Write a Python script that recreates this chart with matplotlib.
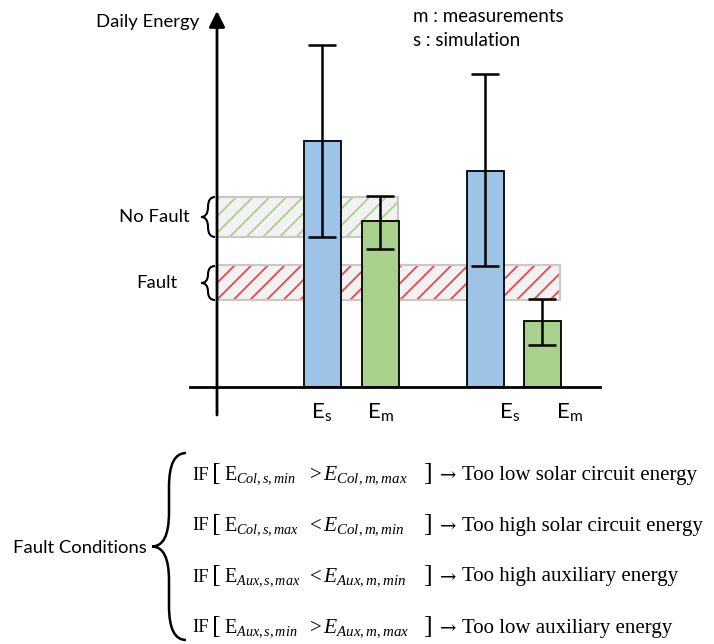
import numpy as np
import matplotlib
matplotlib.use('Agg')
import matplotlib.pyplot as plt
from matplotlib.patches import Rectangle, PathPatch
from matplotlib.path import Path

plt.rcParams['font.family'] = ['Lato', 'DejaVu Sans']
plt.rcParams['mathtext.fontset'] = 'custom'
plt.rcParams['mathtext.rm'] = 'Liberation Serif'
plt.rcParams['mathtext.it'] = 'Liberation Serif:italic'
plt.rcParams['mathtext.sf'] = 'Lato'
plt.rcParams['hatch.linewidth'] = 1.3

# daily energy (arbitrary units) for each bar
labels = [r'$\mathsf{E}_\mathsf{s}$', r'$\mathsf{E}_\mathsf{m}$', r'$\mathsf{E}_\mathsf{s}$', r'$\mathsf{E}_\mathsf{m}$']
energy = [24.6, 16.6, 21.6, 6.6]
err_low = [15.0, 13.8, 12.1, 4.2]
err_high = [34.2, 19.1, 31.3, 8.8]
bar_colors = ['#9dc3e6', '#a9d18e', '#9dc3e6', '#a9d18e']

# bands (low, high) of energy
no_fault = (15.0, 19.0)
fault = (8.7, 12.2)

# fault conditions: left term, operator, right term, consequence
cond_left = [r'$\mathrm{E}_{Col,s,min}$', r'$\mathrm{E}_{Col,s,max}$',
             r'$\mathrm{E}_{Aux,s,max}$', r'$\mathrm{E}_{Aux,s,min}$']
cond_op = ['>', '<', '<', '>']
cond_right = [r'$E_{Col,m,max}$', r'$E_{Col,m,min}$',
              r'$E_{Aux,m,min}$', r'$E_{Aux,m,max}$']
cond_result = ['Too low solar circuit energy', 'Too high solar circuit energy',
               'Too high auxiliary energy', 'Too low auxiliary energy']

xpos = [10.5, 16.3, 26.8, 32.5]
label_x = [10.5, 16.3, 29.3, 35.2]


def brace(ax, x_tip, x_end, y0, y1, lw=1.5):
    # curly brace opening to the right, tip pointing left
    ym = (y0 + y1) / 2.0
    xm = (x_tip + x_end) / 2.0
    r = min(abs(x_end - x_tip), abs(y1 - y0) / 4.0)
    s = np.sign(y1 - y0)
    verts = [(x_end, y0), (xm, y0), (xm, y0 + s * r),
             (xm, ym - s * r), (xm, ym), (x_tip, ym),
             (xm, ym), (xm, ym + s * r),
             (xm, y1 - s * r), (xm, y1), (x_end, y1)]
    codes = [Path.MOVETO, Path.CURVE3, Path.CURVE3,
             Path.LINETO, Path.CURVE3, Path.CURVE3,
             Path.CURVE3, Path.CURVE3,
             Path.LINETO, Path.CURVE3, Path.CURVE3]
    ax.add_patch(PathPatch(Path(verts, codes), fc='none', ec='black', lw=lw, clip_on=False))


fig = plt.figure(figsize=(7.14, 6.44), dpi=100)

# overlay in pixel coords
ax0 = fig.add_axes([0, 0, 1, 1])
ax0.set_xlim(0, 714)
ax0.set_ylim(644, 0)
ax0.axis('off')

# chart axes
ax = fig.add_axes([217/714, (644-387)/644, (714-217)/714, (387-12)/644])
ax.set_xlim(0, 49.7)
ax.set_ylim(0, 37.5)
ax.axis('off')
ax.patch.set_alpha(0)

for (lo, hi), hc, xr in [(no_fault, '#a9d18e', 18.1), (fault, '#e8474a', 34.3)]:
    ax.add_patch(Rectangle((0, lo), xr, hi - lo, fc='#f2f2f2', ec='none', zorder=1))
    ax.add_patch(Rectangle((0, lo), xr, hi - lo, fc='none', ec=hc, lw=0, hatch='//', zorder=1.1))
    ax.add_patch(Rectangle((0, lo), xr, hi - lo, fc='none', ec='#c8c8c8', lw=1.5, zorder=1.2))

ax.bar(xpos, energy, width=3.7, color=bar_colors, edgecolor='black', linewidth=1.3, zorder=2)
ax.errorbar(xpos, energy,
            yerr=[np.array(energy) - np.array(err_low), np.array(err_high) - np.array(energy)],
            fmt='none', ecolor='black', elinewidth=1.8, capsize=10, capthick=1.8, zorder=3)

# axes lines
ax.plot([-2.7, 38.3], [0, 0], color='black', lw=2, clip_on=False, zorder=4)
ax.annotate('', xy=(0, 37.6), xytext=(0, -2.8), annotation_clip=False,
            arrowprops=dict(arrowstyle='-|>', lw=2, color='black', mutation_scale=24,
                            shrinkA=0, shrinkB=0), zorder=4)

for x, lab in zip(label_x, labels):
    ax.text(x, -2.5, lab, ha='center', va='center', fontsize=16, clip_on=False)

ax0.text(148, 22, 'Daily Energy', ha='center', va='center', fontsize=13.3)
ax0.text(413, 16, 'm : measurements', ha='left', va='center', fontsize=13.5)
ax0.text(413, 40, 's : simulation', ha='left', va='center', fontsize=13.5)

ax0.text(190, 217, 'No Fault', ha='right', va='center', fontsize=13.3)
ax0.text(177, 283, 'Fault', ha='right', va='center', fontsize=13.3)
brace(ax0, 201, 215, 197, 237)
brace(ax0, 201, 215, 266, 300)

ax0.text(80, 548, 'Fault Conditions', ha='center', va='center', fontsize=13.3)
brace(ax0, 152, 186, 453, 640, lw=1.8)

serif = ['Liberation Serif', 'DejaVu Serif']
for i in range(4):
    y = 475 + 51 * i
    ax0.text(192, y, 'IF', ha='left', va='center', fontsize=13.5, family=serif)
    ax0.text(212, y - 1, '[', ha='left', va='center', fontsize=19, family=serif)
    ax0.text(224, y, cond_left[i], ha='left', va='center', fontsize=14.5)
    ax0.text(310, y, cond_op[i], ha='left', va='center', fontsize=15, family=serif)
    ax0.text(323, y, cond_right[i], ha='left', va='center', fontsize=15.5)
    ax0.text(423, y - 1, ']', ha='left', va='center', fontsize=19, family=serif)
    ax0.text(440, y, '→', ha='left', va='center', fontsize=14, family=['DejaVu Serif'])
    ax0.text(462, y, cond_result[i], ha='left', va='center', fontsize=15, family=serif)

fig.savefig('out.png', dpi=100)
